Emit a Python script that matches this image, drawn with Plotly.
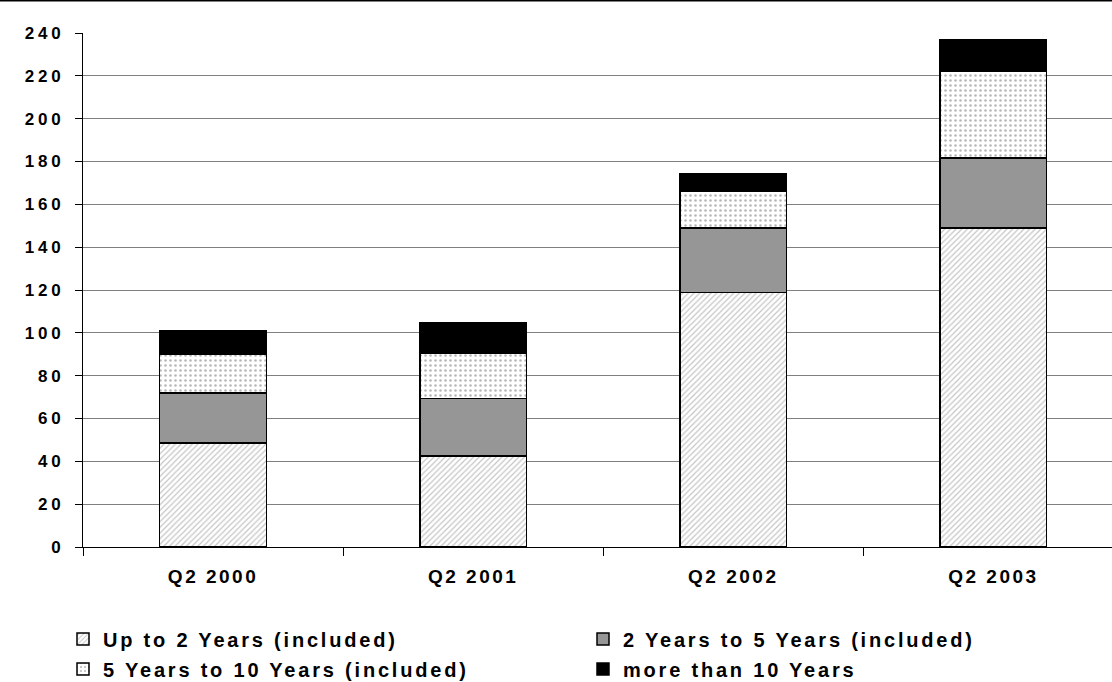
import plotly.graph_objects as go

categories = ["Q2 2000", "Q2 2001", "Q2 2002", "Q2 2003"]
up_to_2 = [48.6, 42.6, 118.9, 149.0]
y2_to_5 = [23.4, 26.8, 30.1, 32.6]
y5_to_10 = [18.1, 21.3, 17.0, 40.5]
more_10 = [10.7, 14.2, 8.4, 14.9]
series_names = ["Up to 2 Years (included)", "2 Years to 5 Years (included)",
                "5 Years to 10 Years (included)", "more than 10 Years"]
y_ticks = list(range(0, 241, 20))

FONT = "Liberation Sans, Arial, sans-serif"
LINE = dict(color="black", width=1.5)

fig = go.Figure()
fig.add_trace(go.Bar(
    x=categories, y=up_to_2, name=series_names[0], legend="legend",
    marker=dict(color="white", line=LINE,
                pattern=dict(shape="/", fgcolor="#8c8c8c", bgcolor="white",
                             size=4, solidity=0.3))))
fig.add_trace(go.Bar(
    x=categories, y=y2_to_5, name=series_names[1], legend="legend2",
    marker=dict(color="#969696", line=LINE)))
fig.add_trace(go.Bar(
    x=categories, y=y5_to_10, name=series_names[2], legend="legend3",
    marker=dict(color="white", line=LINE,
                pattern=dict(shape=".", fgcolor="#6e6e6e", bgcolor="white",
                             size=5, solidity=0.2))))
fig.add_trace(go.Bar(
    x=categories, y=more_10, name=series_names[3], legend="legend4",
    marker=dict(color="black", line=LINE)))


def legend_box(xpx, ypx):
    return dict(
        orientation="h", entrywidth=440, entrywidthmode="pixels",
        xref="container", yref="container",
        x=xpx / 1112, y=1 - ypx / 682, xanchor="left", yanchor="middle",
        font=dict(family=FONT, size=20, color="black", weight="bold"),
        bgcolor="rgba(0,0,0,0)", itemclick=False, itemdoubleclick=False,
    )


fig.update_layout(
    barmode="stack",
    bargap=0.59,
    width=1112, height=682,
    margin=dict(l=83, r=0, t=33, b=135, autoexpand=False),
    paper_bgcolor="white", plot_bgcolor="white",
    font=dict(family=FONT, size=17, color="black", weight="bold"),
    showlegend=True,
    legend=legend_box(63, 639),
    legend2=legend_box(583, 639),
    legend3=legend_box(63, 669),
    legend4=legend_box(583, 669),
    xaxis=dict(
        range=[-0.5, 3.456], showline=True, linecolor="black", linewidth=1,
        ticks="outside", tickson="boundaries", ticklen=8, tickcolor="black",
        showgrid=False, ticklabelstandoff=12, tickangle=0, automargin=False,
        tickfont=dict(family=FONT, size=19, weight="bold"),
    ),
    yaxis=dict(
        range=[0, 240], tickvals=y_ticks, showline=True, linecolor="black",
        linewidth=1, ticks="outside", ticklen=7, tickcolor="black",
        showgrid=True, gridcolor="#808080", gridwidth=1, automargin=False,
        ticklabelstandoff=7, zeroline=False,
        tickfont=dict(family=FONT, size=17, weight="bold"),
    ),
)

fig.add_shape(type="line", xref="paper", yref="paper",
              x0=-0.081, x1=1.0, y0=1.063, y1=1.063,
              line=dict(color="black", width=2))

post = """
var st = document.createElement('style');
st.innerHTML = 'html, body {margin:0; padding:0;} ' +
  '.xtick text {letter-spacing:2.5px;} ' +
  '.ytick text {letter-spacing:3.8px;} ' +
  '.infolayer text, text.legendtext {letter-spacing:2.8px !important;}';
document.head.appendChild(st);
function spaceLegends(){
  document.querySelectorAll('.infolayer text').forEach(function(e){
    e.style.letterSpacing = '2.8px';
  });
}
spaceLegends();
setTimeout(spaceLegends, 50);
setTimeout(spaceLegends, 300);
"""

fig.write_html("out.html", post_script=post,
               config={"displayModeBar": False})
